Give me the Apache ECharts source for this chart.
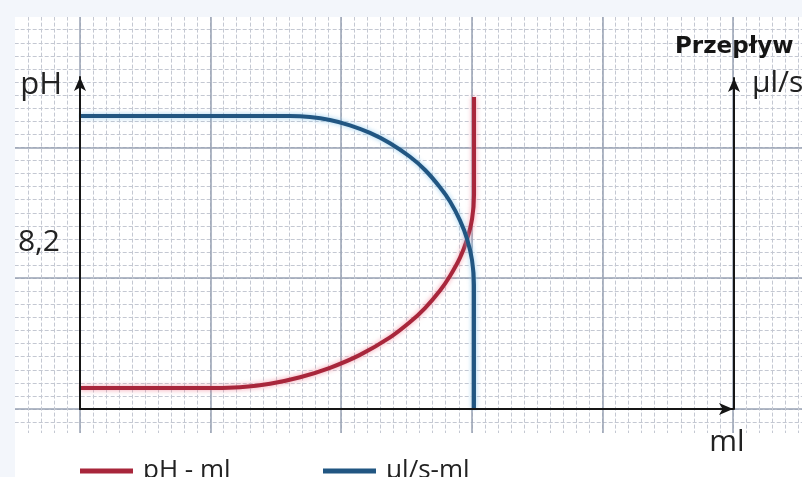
<!DOCTYPE html>
<html>
<head>
<meta charset="utf-8">
<script src="https://cdn.jsdelivr.net/npm/echarts@6/dist/echarts.min.js"></script>
<style>html,body{margin:0;padding:0;background:#fff}#c{width:802px;height:477px}</style>
</head>
<body>
<div id="c"></div>
<script>
// ---- data (ml on x; pH on left axis; flow µl/s on right axis) ----
const mlRed   = [0, 1.034, 1.225, 1.455, 1.685, 1.914, 2.144, 2.374, 2.527, 2.642, 2.757, 2.833, 2.910, 2.963, 3.002, 3.017, 3.017];
const phRed   = [2.78, 2.78, 2.81, 2.94, 3.18, 3.53, 4.01, 4.66, 5.23, 5.75, 6.40, 6.94, 7.62, 8.29, 9.06, 9.95, 13.59];
const mlBlue  = [0, 1.606, 1.758, 1.911, 2.064, 2.217, 2.370, 2.523, 2.638, 2.752, 2.829, 2.905, 2.959, 2.997, 3.012, 3.012];
const flowBlue = [8.85, 8.85, 8.82, 8.73, 8.57, 8.34, 8.03, 7.62, 7.22, 6.70, 6.27, 5.70, 5.14, 4.50, 3.75, 0];
const phTickLabel = 8.2;
const seriesNames = ['pH - ml', 'µl/s-ml'];

const redData = mlRed.map((x, i) => [x, phRed[i]]);
const blueData = mlBlue.map((x, i) => [x, flowBlue[i]]);

const FONT = 'Open Sans';
const MAJOR = {show: true, showMinLine: true, showMaxLine: false, lineStyle: {color: '#98a2b3', width: 1.5}};
const MINOR = {show: true, showMinLine: false, showMaxLine: false, lineStyle: {color: '#c4c8d2', width: 1, type: [4, 2]}};
const HIDE = {axisLine: {show: false}, axisTick: {show: false}, axisLabel: {show: false}};
const ARROW = {show: true, onZero: false, symbol: ['none', 'arrow'], symbolSize: [9, 14], lineStyle: {color: '#151515', width: 2}};

const chart = echarts.init(document.getElementById('c'), null, {renderer: 'canvas'});
chart.setOption({
  backgroundColor: '#ffffff',
  animation: false,
  grid: [
    {left: 14.7, right: 0, top: 16.6, bottom: 41.8},   // 0: minor paper lines
    {left: 14.7, right: 0, top: 16.6, bottom: 68},     // 1: horizontal major lines
    {left: 80, right: 0, top: 16.6, bottom: 41.8},     // 2: vertical major lines
    {left: 80, right: 69, top: 77, bottom: 68},        // 3: ml / pH axes
    {left: 80, right: 68, top: 78, bottom: 68}         // 4: flow axis
  ],
  xAxis: [
    Object.assign({gridIndex: 0, type: 'value', min: -0.5, max: 5.528, interval: 0.1, z: 0, splitLine: MINOR}, HIDE),
    Object.assign({gridIndex: 1, type: 'value', min: 0, max: 1, z: 0, splitLine: {show: false}}, HIDE),
    Object.assign({gridIndex: 2, type: 'value', min: 0, max: 5.528, interval: 1, z: 0, splitLine: MAJOR}, HIDE),
    {gridIndex: 3, type: 'value', min: 0, max: 5, z: 5,
      axisLine: ARROW, axisTick: {show: false}, axisLabel: {show: false}, splitLine: {show: false},
      name: 'ml', nameLocation: 'end', nameGap: -6,
      nameTextStyle: {fontFamily: FONT, fontSize: 30, color: '#222', align: 'center', verticalAlign: 'top', padding: [18, 0, 0, 0]}},
    {gridIndex: 4, type: 'value', min: 0, max: 5, show: false}
  ],
  yAxis: [
    Object.assign({gridIndex: 0, type: 'value', min: -0.2, max: 3, interval: 0.1, z: 0, splitLine: MINOR}, HIDE),
    Object.assign({gridIndex: 1, type: 'value', min: 0, max: 3, interval: 1, z: 0, splitLine: MAJOR}, HIDE),
    Object.assign({gridIndex: 2, type: 'value', min: 0, max: 1, z: 0, splitLine: {show: false}}, HIDE),
    {gridIndex: 3, type: 'value', min: 2, max: 14.33, interval: 6.2, z: 5,
      axisLine: ARROW, axisTick: {show: false}, splitLine: {show: false},
      axisLabel: {show: true, margin: 20, fontFamily: FONT, fontSize: 30, color: '#222',
        formatter: v => Math.abs(v - phTickLabel) < 1e-6 ? String(phTickLabel).replace('.', ',') : ''},
      name: 'pH', nameLocation: 'end', nameGap: -8,
      nameTextStyle: {fontFamily: FONT, fontSize: 31, color: '#222', align: 'right', verticalAlign: 'middle', padding: [0, 18, 0, 0]}},
    {gridIndex: 4, type: 'value', position: 'right', min: 0, max: 10, z: 5,
      axisLine: ARROW, axisTick: {show: false}, axisLabel: {show: false}, splitLine: {show: false}}
  ],
  title: [
    {text: 'Przepływ', left: 675, top: 36, padding: 0,
      textStyle: {fontFamily: 'DejaVu Sans', fontWeight: 'bold', fontSize: 23, color: '#151515'}},
    {text: 'µl/s', left: 752, top: 68, padding: 0,
      textStyle: {fontFamily: FONT, fontWeight: 'normal', fontSize: 30, color: '#222'}}
  ],
  legend: [
    {data: [seriesNames[0]], left: 80, top: 458, padding: 0, icon: 'rect', itemWidth: 53, itemHeight: 5,
      textStyle: {fontFamily: FONT, fontSize: 26, color: '#222', padding: [0, 0, 0, 5]}},
    {data: [seriesNames[1]], left: 323, top: 458, padding: 0, icon: 'rect', itemWidth: 53, itemHeight: 5,
      textStyle: {fontFamily: FONT, fontSize: 26, color: '#222', padding: [0, 0, 0, 5]}}
  ],
  graphic: {elements: [
    {type: 'rect', silent: true, z: 1, shape: {x: 0, y: 0, width: 15, height: 477}, style: {fill: '#f3f6fb'}},
    {type: 'rect', silent: true, z: 1, shape: {x: 0, y: 0, width: 802, height: 17}, style: {fill: '#f3f6fb'}},
    {type: 'rect', silent: true, z: 1, shape: {x: 15, y: 433, width: 787, height: 44}, style: {fill: '#ffffff'}}
  ]},
  series: [
    {name: seriesNames[0], type: 'line', xAxisIndex: 3, yAxisIndex: 3, data: redData,
      showSymbol: false, smooth: 0.25, z: 3,
      itemStyle: {color: '#a8263b'},
      lineStyle: {color: '#a8263b', width: 4, shadowBlur: 5, shadowColor: 'rgba(240,130,150,0.8)'}},
    {name: seriesNames[1], type: 'line', xAxisIndex: 4, yAxisIndex: 4, data: blueData,
      showSymbol: false, smooth: 0.25, z: 3,
      itemStyle: {color: '#215682'},
      lineStyle: {color: '#215682', width: 4, shadowBlur: 5, shadowColor: 'rgba(130,195,235,0.8)'}}
  ]
});
</script>
</body>
</html>
